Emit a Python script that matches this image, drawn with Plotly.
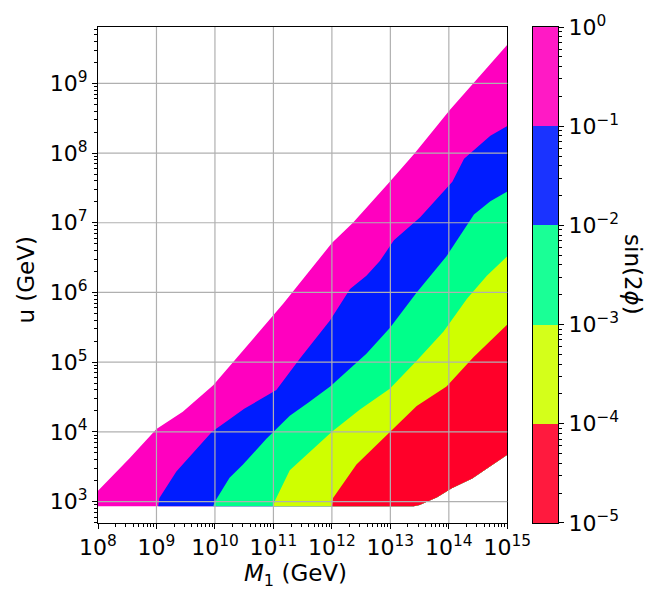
import math
import plotly.graph_objects as go

# ---------------- data (log10 values) ----------------
# outer envelope of the scanned region
upper_log_m1 = [8.0, 8.54, 9.0, 9.45, 9.97, 10.37, 11.17, 12.0, 12.36, 12.99, 13.42, 14.02, 15.0]
upper_log_u = [3.154, 3.62, 4.04, 4.29, 4.67, 5.06, 5.84, 6.71, 7.0, 7.59, 8.0, 8.62, 9.555]
lower_log_m1 = [13.4, 13.5, 13.8, 14.05, 14.4, 15.0]
lower_log_u = [2.934, 2.95, 3.06, 3.19, 3.33, 3.67]
floor_log_u = 2.934
left_log_m1 = 8.0

# boundaries between sin(2phi) bands (upper-left band -> lower-right band)
b1_log_m1 = [9.03, 9.05, 9.34, 9.74, 9.95, 10.25, 10.5, 11.05, 11.45, 11.97, 12.31, 12.59, 12.82, 13.06, 13.51, 14.06, 14.26, 14.71, 15.0]
b1_log_u = [2.934, 3.05, 3.43, 3.81, 4.0, 4.18, 4.33, 4.6, 5.05, 5.6, 6.05, 6.24, 6.45, 6.75, 7.08, 7.59, 7.92, 8.25, 8.39]
b2_log_m1 = [9.97, 10.0, 10.25, 10.48, 10.88, 11.28, 11.6, 11.97, 12.59, 12.99, 13.45, 13.96, 14.14, 14.43, 14.71, 15.0]
b2_log_u = [2.934, 3.0, 3.34, 3.53, 3.9, 4.23, 4.42, 4.65, 5.12, 5.49, 6.0, 6.52, 6.75, 7.12, 7.31, 7.45]
b3_log_m1 = [11.0, 11.02, 11.28, 11.57, 12.0, 12.48, 12.99, 13.45, 13.91, 14.31, 14.65, 15.0]
b3_log_u = [2.934, 3.0, 3.45, 3.67, 4.0, 4.32, 4.62, 5.02, 5.44, 5.91, 6.24, 6.52]
b4_log_m1 = [12.0, 12.02, 12.42, 12.94, 13.45, 13.96, 14.42, 15.0]
b4_log_u = [2.934, 3.05, 3.53, 3.95, 4.37, 4.65, 5.07, 5.54]

# colour bands of sin(2phi): decade edges (log10) and colours
sin2phi_log_edges = [-5, -4, -3, -2, -1, 0]
band_colors = ["#ff0029", "#cfff00", "#00ff8a", "#001cff", "#ff00bf"]      # in the plot
cbar_colors = ["#ff1a3e", "#d4ff1a", "#1aff96", "#1a33ff", "#ff1ac5"]      # colour bar

x_exponents = [8, 9, 10, 11, 12, 13, 14, 15]
y_exponents = [3, 4, 5, 6, 7, 8, 9]
x_range_log = [8.0, 15.0]
y_range_log = [2.692, 9.809]

FONT = "DejaVu Sans"
TICK_SIZE = 22
LABEL_SIZE = 23


def p10(v):
    return [10 ** a for a in v]


fig = go.Figure()

# outermost (magenta) region
ox = upper_log_m1 + lower_log_m1[::-1] + [left_log_m1]
oy = upper_log_u + lower_log_u[::-1] + [floor_log_u]
fig.add_trace(go.Scatter(x=p10(ox), y=p10(oy), fill="toself", mode="lines",
                         line=dict(width=0, color=band_colors[4]),
                         fillcolor=band_colors[4], hoverinfo="skip", showlegend=False))

bounds = [(b1_log_m1, b1_log_u), (b2_log_m1, b2_log_u), (b3_log_m1, b3_log_u), (b4_log_m1, b4_log_u)]
for i, (bx, by) in enumerate(bounds):
    col = band_colors[3 - i]
    px = bx + lower_log_m1[::-1]
    py = by + lower_log_u[::-1]
    fig.add_trace(go.Scatter(x=p10(px), y=p10(py), fill="toself", mode="lines",
                             line=dict(width=0, color=col),
                             fillcolor=col, hoverinfo="skip", showlegend=False))

# colour bar drawn as a heatmap on its own axes
ncol = len(cbar_colors)
cscale = [[k / (ncol - 1), c] for k, c in enumerate(cbar_colors)]
fig.add_trace(go.Heatmap(x=[0, 1], y=sin2phi_log_edges,
                         z=[[k] for k in range(ncol)], zmin=0, zmax=ncol - 1,
                         colorscale=cscale, showscale=False, hoverinfo="skip",
                         xaxis="x2", yaxis="y2"))


def sup(k):
    s = str(k).replace("-", "\u2212")
    return f"10<sup>{s}</sup>"


def minor_vals(lo, hi):
    out = []
    for k in range(int(lo) - 1, int(hi) + 1):
        for m in range(2, 10):
            v = 10 ** k * m
            if 10 ** lo <= v <= 10 ** hi:
                out.append(v)
    return out


cb_minor = []
for k in range(-5, 0):
    for m in range(2, 10):
        cb_minor.append(k + math.log10(m))

tickfont = dict(family=FONT, size=TICK_SIZE, color="black")
axis_common = dict(showline=True, linecolor="black", linewidth=1.1, mirror=True,
                   ticks="outside", ticklen=5, tickwidth=1.1, tickcolor="black",
                   showgrid=False, zeroline=False, tickfont=tickfont,
                   ticklabeloverflow="allow")

fig.update_layout(
    width=672, height=593,
    margin=dict(l=98, r=114, t=15, b=70),
    paper_bgcolor="white", plot_bgcolor="white",
    font=dict(family=FONT, color="black"),
    xaxis=dict(type="log", range=x_range_log, domain=[0, 0.8898],
               tickmode="array", tickvals=[10 ** k for k in x_exponents],
               ticktext=[sup(k) for k in x_exponents],
               minor=dict(tickmode="array", tickvals=minor_vals(*x_range_log),
                          ticks="outside", ticklen=3, tickwidth=0.8, tickcolor="black",
                          showgrid=False),
               anchor="y", **axis_common),
    yaxis=dict(type="log", range=y_range_log, domain=[0, 1],
               tickmode="array", tickvals=[10 ** k for k in y_exponents],
               ticktext=[sup(k) for k in y_exponents],
               minor=dict(tickmode="array", tickvals=minor_vals(*y_range_log),
                          ticks="outside", ticklen=3, tickwidth=0.8, tickcolor="black",
                          showgrid=False),
               anchor="x", **axis_common),
    xaxis2=dict(domain=[0.9457, 1.0], range=[0, 1], anchor="y2",
                showline=True, linecolor="black", linewidth=1.1, mirror=True,
                showticklabels=False, ticks="", showgrid=False, zeroline=False),
    yaxis2=dict(range=[-5.0005, 0.0005], domain=[0, 1], anchor="x2", side="right",
                tickmode="array", tickvals=sin2phi_log_edges,
                ticktext=[sup(k) for k in sin2phi_log_edges],
                minor=dict(tickmode="array", tickvals=cb_minor,
                           ticks="outside", ticklen=3, tickwidth=0.8, tickcolor="black",
                           showgrid=False),
                **axis_common),
)

# grid lines drawn above the scatter region (as in the reference)
grid_col = "#b0b0b0"
for k in x_exponents[1:-1]:
    fig.add_shape(type="line", xref="x", yref="y domain", x0=10 ** k, x1=10 ** k,
                  y0=0, y1=1, line=dict(color=grid_col, width=1.2), layer="above")
for k in y_exponents:
    fig.add_shape(type="line", xref="x domain", yref="y", x0=0, x1=1,
                  y0=10 ** k, y1=10 ** k, line=dict(color=grid_col, width=1.2), layer="above")

# axis titles
fig.add_annotation(text="<i>M</i><sub>1</sub> (GeV)", xref="paper", yref="paper",
                   x=0.430, y=-0.1045, xanchor="center", yanchor="middle",
                   showarrow=False, font=dict(family=FONT, size=LABEL_SIZE, color="black"))
fig.add_annotation(text="u (GeV)", xref="paper", yref="paper",
                   x=-0.1573, y=0.490, xanchor="center", yanchor="middle", textangle=-90,
                   showarrow=False, font=dict(family=FONT, size=LABEL_SIZE, color="black"))
fig.add_annotation(text="sin(2<i>\u03d5</i>)", xref="paper", yref="paper",
                   x=1.163, y=0.50, xanchor="center", yanchor="middle", textangle=90,
                   showarrow=False, font=dict(family=FONT, size=LABEL_SIZE, color="black"))

fig.write_html("out.html")
